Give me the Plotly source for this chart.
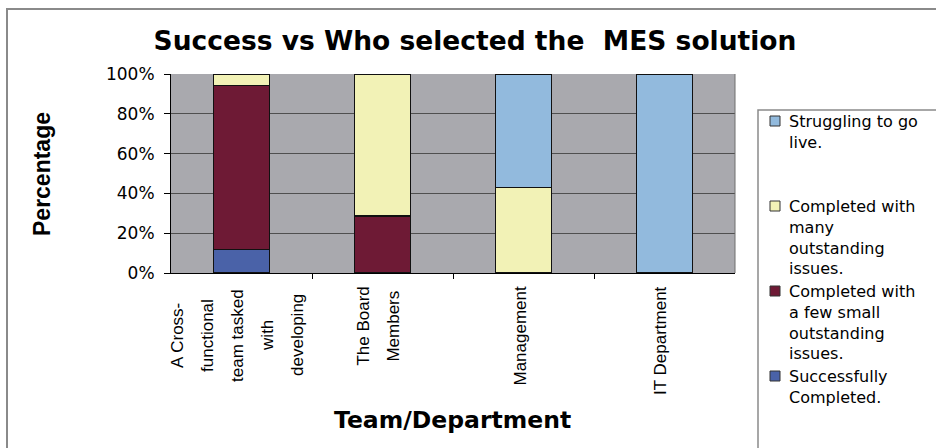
import plotly.graph_objects as go

# ---- data -------------------------------------------------------------
categories = [
    "A Cross-<br>functional<br>team tasked<br>with<br>developing",
    "The Board<br>Members",
    "Management",
    "IT Department",
]
successfully_completed = [11.8, 0, 0, 0]
completed_few_issues = [82.4, 28.6, 0, 0]
completed_many_issues = [5.9, 71.4, 42.9, 0]
struggling_to_go_live = [0, 0, 57.1, 100]

series_names = [
    "Successfully<br>Completed.",
    "Completed with<br>a few small<br>outstanding<br>issues.",
    "Completed with<br>many<br>outstanding<br>issues.",
    "Struggling to go<br>live.",
]
series_values = [successfully_completed, completed_few_issues,
                 completed_many_issues, struggling_to_go_live]
series_colors = ["#4A62A8", "#6E1A35", "#F2F2B6", "#92BADD"]

y_ticks = [0, 20, 40, 60, 80, 100]

# ---- page geometry (pixels) --------------------------------------------
FIG_W, FIG_H = 936, 448
PLOT_L, PLOT_R, PLOT_T, PLOT_B = 171, 735, 74, 273
PW, PH = PLOT_R - PLOT_L, PLOT_B - PLOT_T


def px_x(p):
    return (p - PLOT_L) / PW


def px_y(p):
    return (PLOT_B - p) / PH


x_idx = list(range(len(categories)))

fig = go.Figure()
for name, vals, col in zip(series_names, series_values, series_colors):
    fig.add_trace(go.Bar(
        x=x_idx, y=vals, name=name,
        marker=dict(color=col, line=dict(color="#111111", width=1.5)),
        showlegend=False,
    ))

annotations = []
shapes = []

# category labels, rotated, one column per wrapped line
TICK_FONT = dict(family="Liberation Sans, Arial", size=17, color="#000")
label_top = 284
for i, cat in enumerate(categories):
    lines = cat.split("<br>")
    n = len(lines)
    longest = max(len(s) for s in lines)
    for j, line in enumerate(lines):
        xshift = (j - (n - 1) / 2) * 30 - 4
        if n == 1:
            y, ya = px_y(label_top), "top"
        else:
            y, ya = px_y(label_top + 0.55 * 17 * longest / 2), "middle"
        annotations.append(dict(
            x=i, xref="x", y=y, yref="paper", text=line, showarrow=False,
            textangle=-90, xanchor="center", yanchor=ya, xshift=xshift,
            font=TICK_FONT,
        ))

# axis titles
annotations.append(dict(
    x=px_x(452), y=px_y(420), xref="paper", yref="paper",
    text="<b>Team/Department</b>", showarrow=False,
    font=dict(family="DejaVu Sans", size=23.5, color="#000"),
    xanchor="center", yanchor="middle",
))
annotations.append(dict(
    x=px_x(42), y=px_y(174), xref="paper", yref="paper",
    text="<b>Percentage</b>", showarrow=False, textangle=-90,
    font=dict(family="Liberation Sans, Arial", size=23, color="#000"),
    xanchor="center", yanchor="middle",
))

# legend, drawn by hand so entries keep a fixed pitch
LEG_FONT = dict(family="DejaVu Sans", size=16, color="#000")
first_line = 121
pitch = 85
for k, idx in enumerate(reversed(range(len(series_names)))):
    cy = first_line + k * pitch
    shapes.append(dict(
        type="rect", xref="paper", yref="paper",
        x0=px_x(770), x1=px_x(780), y0=px_y(cy - 5), y1=px_y(cy + 5),
        fillcolor=series_colors[idx], line=dict(color="#333", width=1),
    ))
    annotations.append(dict(
        x=px_x(787), y=px_y(cy - 11), xref="paper", yref="paper",
        text=series_names[idx], showarrow=False, align="left",
        xanchor="left", yanchor="top", font=LEG_FONT,
    ))

# legend frame
shapes.append(dict(
    type="rect", xref="paper", yref="paper",
    x0=px_x(758), x1=px_x(945), y0=px_y(460), y1=px_y(110),
    line=dict(color="#8a8a8a", width=1.5), fillcolor="rgba(0,0,0,0)",
))
# outer chart frame
shapes.append(dict(
    type="rect", xref="paper", yref="paper",
    x0=px_x(7), x1=px_x(950), y0=px_y(460), y1=px_y(9),
    line=dict(color="#8a8a8a", width=2), fillcolor="rgba(0,0,0,0)",
))
# right edge of the plot area
shapes.append(dict(
    type="line", xref="x domain", yref="y domain",
    x0=1, x1=1, y0=0, y1=1, line=dict(color="#6e6e6e", width=1),
))

fig.update_layout(
    width=FIG_W, height=FIG_H,
    margin=dict(l=PLOT_L, r=FIG_W - PLOT_R, t=PLOT_T, b=FIG_H - PLOT_B),
    paper_bgcolor="white",
    plot_bgcolor="#A9A9AE",
    barmode="stack",
    bargap=0.6,
    title=dict(
        text="<b>Success vs Who selected the\u00a0 MES solution</b>",
        x=px_x(475), xref="paper", xanchor="center",
        y=1 - 41 / FIG_H, yref="container", yanchor="middle",
        font=dict(family="DejaVu Sans", size=26.5, color="#000"),
    ),
    xaxis=dict(
        type="linear", range=[-0.5, len(categories) - 0.5],
        tickvals=[i + 0.5 for i in x_idx[:-1]], showticklabels=False,
        ticks="outside", ticklen=5, tickcolor="#000",
        showline=True, linecolor="#000", linewidth=1,
        showgrid=False, zeroline=False, automargin=False,
    ),
    yaxis=dict(
        range=[0, 100], tickvals=y_ticks,
        ticktext=[f"{v}%" for v in y_ticks],
        ticks="outside", ticklen=6, tickcolor="#000",
        ticklabelstandoff=6,
        tickfont=dict(family="DejaVu Sans", size=17, color="#000"),
        showline=True, linecolor="#000", linewidth=1,
        showgrid=True, gridcolor="#4f4f4f", gridwidth=1,
        zeroline=False, automargin=False,
    ),
    annotations=annotations,
    shapes=shapes,
)

fig.write_html("out.html")
